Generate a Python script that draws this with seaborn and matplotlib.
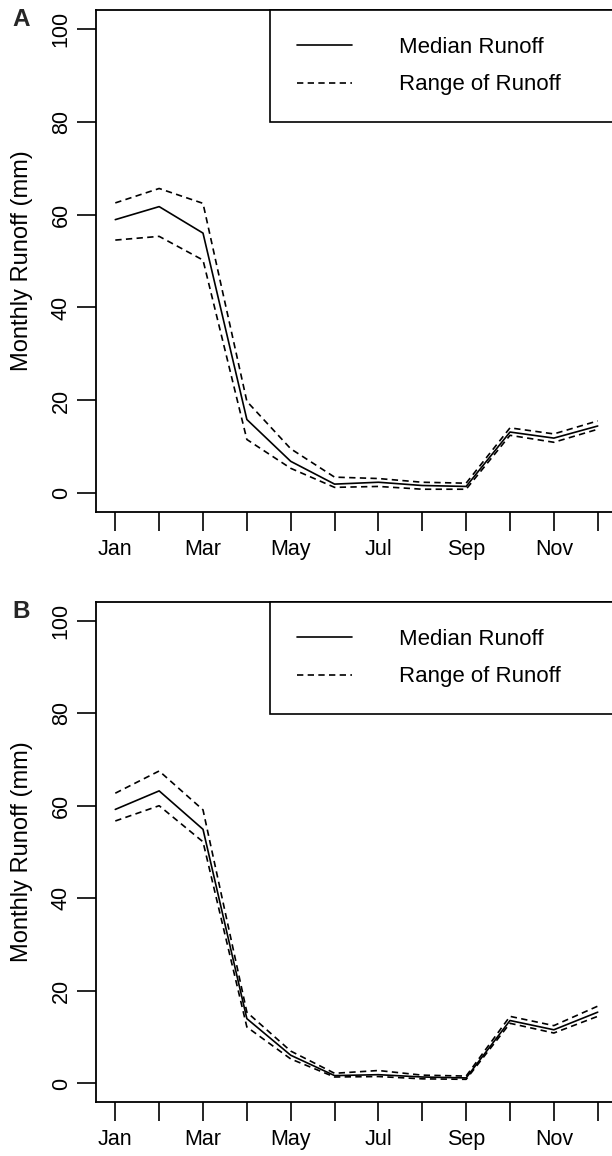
import pandas as pd
import matplotlib.pyplot as plt
import seaborn as sns

# Monthly runoff values (mm)
months = ["Jan", "Feb", "Mar", "Apr", "May", "Jun",
          "Jul", "Aug", "Sep", "Oct", "Nov", "Dec"]
month_num = list(range(1, 13))

a_median = [58.9, 61.7, 56.0, 15.9, 6.9, 2.0, 2.4, 1.7, 1.5, 13.2, 11.9, 14.5]
a_upper = [62.5, 65.6, 62.4, 19.8, 9.6, 3.5, 3.2, 2.4, 2.2, 14.1, 12.8, 15.6]
a_lower = [54.5, 55.3, 50.2, 11.6, 5.4, 1.3, 1.5, 0.9, 0.9, 12.5, 11.0, 13.8]

b_median = [59.2, 63.2, 54.9, 14.0, 6.1, 1.7, 1.9, 1.4, 1.2, 13.6, 11.6, 15.4]
b_upper = [62.7, 67.5, 59.1, 15.4, 7.0, 2.2, 2.8, 1.8, 1.6, 14.5, 12.5, 16.7]
b_lower = [56.7, 60.0, 52.2, 12.2, 5.3, 1.4, 1.5, 1.0, 0.9, 13.0, 10.9, 14.5]

panels = [
    ("A", a_median, a_upper, a_lower),
    ("B", b_median, b_upper, b_lower),
]

sns.set_theme(style="ticks")
plt.rcParams["font.family"] = ["Liberation Sans", "DejaVu Sans"]
plt.rcParams["axes.linewidth"] = 1.3

fig = plt.figure(figsize=(6.12, 11.56), dpi=100)

# axes positions in pixels: (top, bottom)
boxes = [(10, 512), (602, 1102)]
W, H = 612, 1156
left_px, right_px = 96, 617

dash = (3.8, 2.6)

for (label, med, up, lo), (top, bot) in zip(panels, boxes):
    ax = fig.add_axes([left_px / W, 1 - bot / H,
                       (right_px - left_px) / W, (bot - top) / H])

    df = pd.DataFrame({"month": month_num, "median": med,
                       "upper": up, "lower": lo})

    sns.lineplot(data=df, x="month", y="median", ax=ax, color="black",
                 linewidth=1.2, label="Median Runoff")
    sns.lineplot(data=df, x="month", y="upper", ax=ax, color="black",
                 linewidth=1.2, linestyle=(0, dash), label="Range of Runoff")
    sns.lineplot(data=df, x="month", y="lower", ax=ax, color="black",
                 linewidth=1.2, linestyle=(0, dash))

    ax.set_xlim(0.56, 12.44)
    ax.set_ylim(-4, 104)

    ax.set_xticks(month_num)
    ax.set_xticklabels([m if i % 2 == 0 else "" for i, m in enumerate(months)])
    ax.set_yticks([0, 20, 40, 60, 80, 100])
    ax.set_yticklabels(["0", "20", "40", "60", "80", "100"],
                       rotation=90, va="center")

    ax.tick_params(axis="both", length=13.5, width=1.2, color="black",
                   labelsize=15.5, pad=6, labelcolor="black")
    ax.tick_params(axis="y", pad=4)

    for s in ax.spines.values():
        s.set_color("black")
        s.set_linewidth(1.3)

    ax.set_xlabel("")
    ax.set_ylabel("Monthly Runoff (mm)", fontsize=17, color="black")
    ax.yaxis.set_label_coords(-0.12, 0.5)

    leg = ax.legend(loc="upper left", bbox_to_anchor=(0.334, 0, 0.75, 1.0),
                    mode="expand", borderaxespad=0, fancybox=False,
                    framealpha=1, edgecolor="black", fontsize=16,
                    handlelength=2.5, handletextpad=2.1, borderpad=1.2,
                    labelspacing=0.75)
    leg.get_frame().set_linewidth(1.2)
    for t in leg.get_texts():
        t.set_color("black")

    fig.text(21 / W, 1 - (top + 10) / H, label, fontsize=17.5,
             fontweight="bold", ha="center", va="center")

plt.savefig("out.png", dpi=100)
plt.close()
